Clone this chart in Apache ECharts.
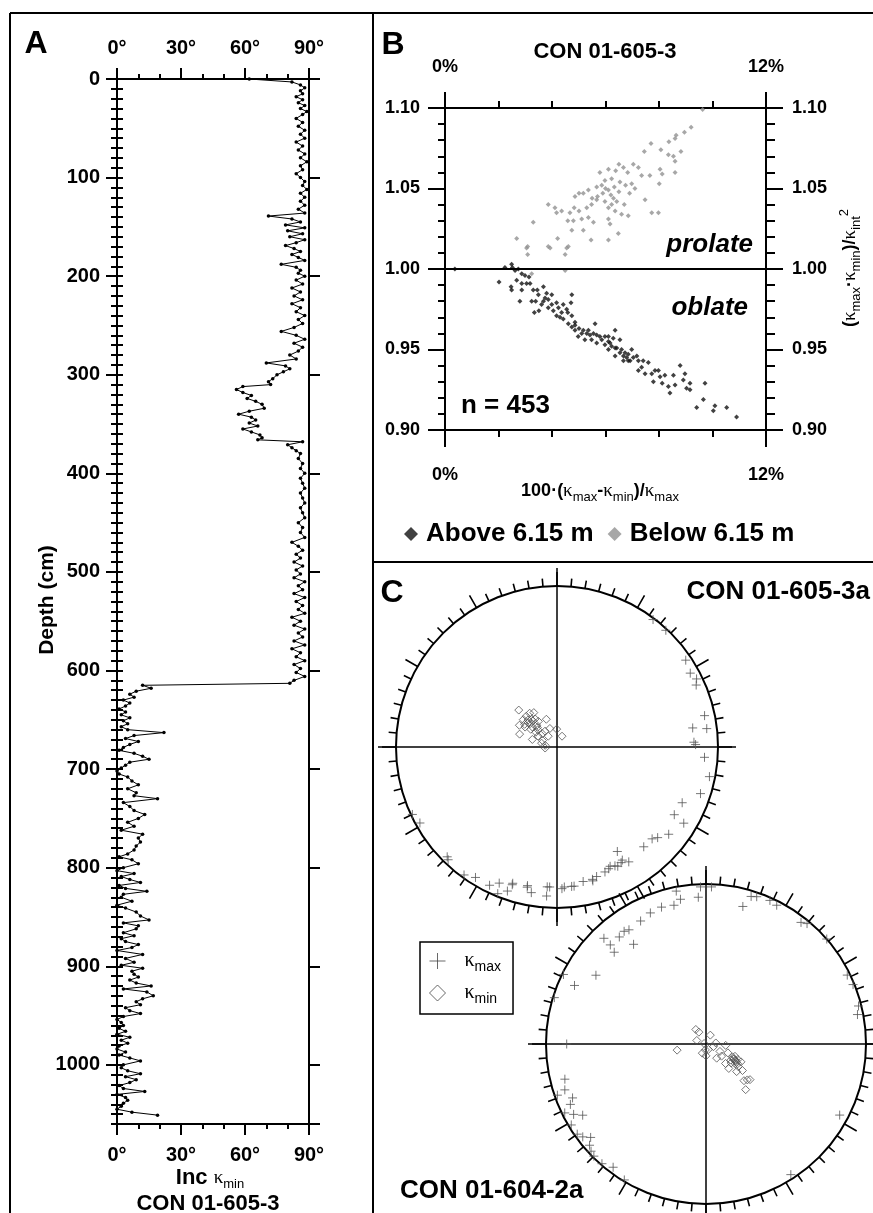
<!DOCTYPE html>
<html><head><meta charset="utf-8">
<script src="https://cdn.jsdelivr.net/npm/echarts@6/dist/echarts.min.js"></script>
<style>html,body{margin:0;padding:0;background:#fff}#c{width:873px;height:1213px}</style>
</head><body><div id="c"></div>
<script>
// ---------- Panel A: inclination of kmin vs depth  [depth cm, inc deg] ----------
const incProfile = [
[0,62],[3,82],[6,86],[9,88],[12,86],[15,87],[18,84],[21,87],[24,85],[27,88],[30,86],[33,89],[36,87],[40,84],[44,87],[48,85],[52,88],[56,86],[60,88],[64,84],[68,87],[72,85],[76,88],[80,86],[84,89],[88,86],[92,87],[96,84],[100,86],[104,88],[108,87],[112,89],[116,86],[120,88],[124,86],[128,88],[132,85],[136,88],[139,71],[142,82],[145,86],[148,79],[151,88],[154,80],[157,87],[160,81],[163,88],[166,84],[169,79],[172,83],[175,86],[178,82],[181,85],[184,88],[188,77],[191,84],[194,86],[197,85],[200,88],[204,84],[208,87],[212,82],[216,86],[220,83],[224,87],[228,82],[232,86],[236,84],[240,88],[244,85],[248,87],[252,83],[256,77],[260,84],[264,88],[268,83],[272,87],[276,85],[280,81],[284,84],[288,70],[291,79],[294,81],[297,78],[300,75],[304,73],[307,71],[310,72],[312,59],[315,56],[318,59],[321,63],[324,61],[327,65],[330,68],[334,69],[337,62],[340,57],[343,63],[346,65],[349,62],[352,66],[355,59],[358,63],[361,67],[364,68],[366,66],[368,87],[371,80],[374,82],[377,84],[380,86],[385,85],[390,87],[395,86],[400,88],[405,86],[410,87],[415,88],[420,86],[425,87],[430,88],[435,86],[440,87],[445,88],[450,85],[455,87],[460,86],[465,88],[470,82],[474,85],[478,87],[482,84],[486,86],[490,83],[494,87],[498,84],[502,86],[506,83],[510,88],[514,85],[518,87],[522,83],[526,88],[530,84],[534,87],[538,85],[542,88],[546,82],[550,86],[554,83],[558,88],[562,85],[566,87],[570,83],[574,88],[578,82],[582,86],[586,84],[590,88],[594,83],[598,86],[602,84],[606,88],[610,83],[613,81],[615,12],[618,16],[621,9],[624,6],[627,8],[630,3],[633,6],[636,4],[639,1],[642,4],[645,2],[648,6],[651,3],[654,5],[657,2],[660,5],[663,22],[666,8],[669,4],[672,10],[675,6],[678,3],[681,1],[684,8],[687,12],[690,15],[693,6],[696,4],[699,2],[702,0],[705,1],[708,5],[712,7],[716,10],[720,5],[724,9],[727,8],[730,19],[734,3],[738,6],[742,8],[746,13],[750,10],[754,5],[758,8],[762,2],[766,12],[770,10],[774,11],[778,9],[782,8],[786,5],[789,1],[792,7],[796,10],[800,3],[803,0],[806,8],[809,2],[812,6],[815,11],[818,1],[821,4],[824,14],[827,3],[830,2],[834,7],[838,0],[841,4],[845,9],[849,11],[853,15],[856,3],[859,10],[862,9],[866,3],[869,8],[872,2],[875,4],[878,10],[881,7],[884,0],[888,12],[892,4],[896,8],[899,2],[902,12],[905,7],[908,8],[911,10],[914,6],[917,9],[920,16],[923,3],[926,14],[930,17],[933,12],[936,9],[939,11],[942,4],[945,6],[948,11],[951,3],[954,0],[957,2],[960,3],[963,1],[966,4],[969,0],[972,6],[975,2],[978,5],[981,1],[984,0],[987,4],[990,1],[993,6],[996,11],[1000,3],[1003,2],[1006,5],[1009,11],[1012,4],[1015,9],[1018,6],[1021,1],[1024,3],[1027,13],[1030,0],[1033,4],[1036,5],[1039,3],[1042,2],[1045,0],[1048,7],[1051,19]
];

// ---------- Panel B: shape plot  [100*(kmax-kmin)/kmax %, (kmax*kmin)/kint^2] ----------
const aboveShape = [
[0.37,1.000],[2.24,1.001],[2.02,0.992],[2.49,1.003],[2.52,1.001],[2.62,0.999],[2.74,1.000],[2.87,0.997],[2.47,0.989],[2.49,0.987],[2.80,0.980],[2.87,0.987],[2.99,0.996],[3.14,0.995],[3.18,0.991],[3.30,0.987],[3.45,0.987],[3.49,0.984],[3.24,0.980],[3.39,0.980],[3.34,0.973],[3.51,0.974],[3.68,0.989],[3.74,0.982],[3.86,0.981],[3.99,0.978],[4.17,0.979],[4.05,0.974],[4.36,0.973],[4.55,0.975],[4.71,0.979],[4.74,0.984],[4.30,0.970],[4.42,0.969],[4.61,0.966],[4.74,0.964],[4.86,0.962],[4.98,0.958],[5.11,0.960],[5.23,0.956],[5.36,0.962],[5.48,0.956],[5.61,0.966],[5.67,0.954],[5.79,0.958],[5.98,0.953],[6.11,0.950],[6.11,0.958],[6.17,0.954],[6.29,0.957],[6.36,0.951],[6.36,0.962],[6.54,0.956],[6.54,0.948],[6.67,0.946],[6.79,0.945],[6.92,0.943],[6.98,0.950],[7.17,0.946],[7.23,0.943],[7.35,0.939],[7.60,0.942],[7.73,0.935],[7.98,0.937],[8.04,0.933],[8.12,0.929],[8.35,0.927],[8.41,0.923],[8.54,0.934],[8.79,0.940],[8.91,0.931],[9.16,0.929],[9.16,0.925],[9.72,0.929],[9.66,0.919],[9.41,0.914],[10.09,0.915],[10.03,0.912],[10.53,0.914],[10.90,0.908],
[4.86,0.965],[5.01,0.963],[5.17,0.962],[5.30,0.960],[5.42,0.959],[5.55,0.960],[5.67,0.959],[5.86,0.956],[5.98,0.958],[6.11,0.955],[6.23,0.952],[6.42,0.951],[6.60,0.950],[6.73,0.948],[6.85,0.947],[7.04,0.945],[6.85,0.943],[6.67,0.943],[6.36,0.946],[7.41,0.943],[7.23,0.937],[7.48,0.935],[7.85,0.937],[7.79,0.930],[8.22,0.934],[8.60,0.928],[8.97,0.935],[9.03,0.926],[3.80,0.985],[3.99,0.984],[3.86,0.976],[4.24,0.976],[4.42,0.978],[4.59,0.973],[4.17,0.971],[4.74,0.971],[4.86,0.967],[3.05,0.991],[2.87,0.991],[2.68,0.993],[3.68,0.980],[3.61,0.978]
];
const belowShape = [
[9.63,1.099],[9.20,1.088],[8.95,1.085],[8.64,1.083],[8.60,1.081],[8.37,1.079],[7.70,1.078],[7.45,1.073],[8.07,1.074],[8.35,1.071],[8.54,1.070],[8.82,1.073],[8.60,1.067],[8.60,1.060],[8.04,1.062],[8.12,1.059],[7.04,1.065],[7.23,1.063],[6.83,1.060],[6.50,1.065],[6.67,1.063],[6.11,1.062],[6.38,1.061],[5.79,1.060],[7.35,1.058],[7.66,1.058],[8.01,1.053],[6.98,1.053],[6.54,1.054],[6.75,1.052],[6.23,1.056],[5.98,1.055],[6.33,1.051],[5.86,1.052],[5.67,1.051],[6.11,1.049],[5.36,1.049],[5.17,1.047],[4.86,1.045],[5.01,1.047],[7.48,1.043],[5.67,1.043],[5.98,1.042],[6.23,1.040],[6.42,1.042],[6.11,1.038],[6.36,1.036],[6.60,1.034],[6.85,1.033],[7.73,1.035],[7.98,1.035],[5.48,1.040],[5.30,1.038],[5.01,1.036],[4.83,1.038],[4.67,1.035],[4.36,1.036],[4.59,1.030],[4.80,1.030],[5.11,1.031],[5.36,1.032],[5.55,1.029],[6.11,1.031],[6.17,1.028],[6.48,1.022],[6.11,1.018],[5.17,1.024],[4.74,1.024],[4.17,1.035],[3.86,1.040],[4.11,1.038],[4.21,1.019],[3.30,1.029],[2.68,1.019],[3.05,1.013],[3.93,1.013],[4.61,1.014],[5.46,1.018],[3.09,1.014],[3.09,1.009],[3.86,1.014],[4.55,1.013],[4.49,1.009],[4.49,0.999],[3.24,0.997],
[5.90,1.047],[6.00,1.050],[6.20,1.046],[5.70,1.045],[6.50,1.048],[6.90,1.047],[6.30,1.044],[5.50,1.044],[6.70,1.040],[7.10,1.050]
];

// ---------- Panel C: stereonets  [declination deg, inclination deg] ----------
const c1Kmax = [
[37,1],[43,1],[56,4],[61,6],[64,4],[66,6],[78,7],[82,16],[83,7],[88,16],[89,15],[94,9],[101,4],[108,7],[114,16],[120,17],[121,9],[128,13],[132,17],[134,19],[139,19],[150,26],[148,17],[151,19],[154,19],[157,19],[159,18],[163,17],[165,15],[169,16],[173,14],[177,14],[183,14],[174,14],[178,13],[184,14],[184,8],[190,9],[192,12],[198,11],[199,6],[203,9],[206,5],[202,2],[212,5],[216,2],[224,3],[225,4],[241,3],[245,1],[192,13],[198,12],[165,16],[150,20],[153,18],[156,20]
];
const c1Kmin = [
[314,63],[309,68],[315,68],[321,68],[326,69],[317,71],[322,72],[324,74],[310,71],[305,70],[300,68],[289,70],[287,77],[312,77],[312,80],[339,75],[339,80],[359,81],[25,84],[294,82],[265,84],[278,84],[311,72],[317,72],[313,70],[317,75],[309,74],[302,71],[315,76],[304,74],[305,77],[300,79],[284,82],[321,83],[323,80]
];
const c2Kmax = [
[349,3],[350,9],[358,2],[357,9],[2,2],[15,12],[17,4],[19,3],[24,2],[27,3],[38,4],[40,2],[49,0],[64,2],[68,1],[79,4],[76,2],[118,6],[147,3],[347,12],[342,11],[337,12],[332,14],[326,15],[324,14],[321,15],[324,24],[316,9],[316,15],[315,20],[302,20],[294,11],[296,1],[287,1],[270,14],[256,10],[252,8],[251,2],[248,11],[246,8],[244,2],[242,7],[240,12],[239,2],[235,2],[233,4],[231,8],[229,4],[227,2],[225,1],[221,1],[217,4],[211,1]
];
const c2Kmin = [
[258,75],[325,81],[329,83],[26,85],[291,85],[186,87],[180,84],[84,85],[94,80],[118,82],[143,81],[112,78],[119,74],[113,74],[127,74],[125,70],[126,67],[132,69],[131,62],[129,61],[134,63],[139,59],[137,73],[135,76],[110,86],[156,87],[285,89],[128,80],[117,70],[122,71],[120,73],[116,75],[123,75],[116,72],[202,85],[119,73],[121,72],[118,74],[124,72]
];

// ---------- layout / style ----------
const FONT = '"Liberation Sans", Arial, sans-serif';
const KFONT = '"Liberation Serif", "DejaVu Serif", serif';
const GA = {left:117, top:79, width:192, height:1045};
const GB = {left:445, top:108, width:321, height:322};
const P1 = {c:[557,747], r:161};
const P2 = {c:[706,1044], r:160};

const ea = inc => Math.SQRT2 * Math.sin((90 - inc) / 2 * Math.PI / 180); // equal-area radius

const line = (w) => ({show:true, onZero:false, lineStyle:{color:'#000', width:w}});
const tick = (len, w) => ({show:true, inside:false, length:len, lineStyle:{color:'#000', width:w}});
const minor = (n, len, w) => ({show:true, splitNumber:n, length:len, lineStyle:{color:'#000', width:w}});
const lbl = (size, margin, fmt) => ({show:true, fontSize:size, fontWeight:'bold', fontFamily:FONT, color:'#000', margin:margin, formatter:fmt});

const xAxes = [
  {gridIndex:0, type:'value', position:'bottom', min:0, max:90, interval:30, axisLine:line(2), axisTick:tick(11,2), minorTick:minor(3,5,2), splitLine:{show:false}, axisLabel:lbl(20,21,v=>v+'°')},
  {gridIndex:0, type:'value', position:'top', min:0, max:90, interval:30, axisLine:line(2), axisTick:tick(11,2), minorTick:minor(3,5,2), splitLine:{show:false}, axisLabel:lbl(20,21,v=>v+'°')},
  {gridIndex:1, type:'value', position:'bottom', min:0, max:12, interval:2, axisLine:line(2), axisTick:tick(7,2), splitLine:{show:false}, axisLabel:lbl(18,36,v=>(v===0||v===12)?v+'%':'')},
  {gridIndex:1, type:'value', position:'top', min:0, max:12, interval:2, axisLine:line(2), axisTick:tick(7,2), splitLine:{show:false}, axisLabel:lbl(18,32,v=>(v===0||v===12)?v+'%':'')}
];
const yAxes = [
  {gridIndex:0, type:'value', position:'left', inverse:true, min:0, max:1060, interval:100, axisLine:line(2), axisTick:tick(11,2), splitLine:{show:false}, axisLabel:Object.assign(lbl(20,17,v=>String(v)),{showMaxLabel:false})},
  {gridIndex:0, type:'value', position:'right', inverse:true, min:0, max:1060, interval:100, axisLine:line(2), axisTick:tick(11,2), splitLine:{show:false}, axisLabel:{show:false}},
  {gridIndex:0, type:'value', position:'left', inverse:true, min:0, max:1060, interval:10, axisLine:{show:false}, axisTick:tick(6,2), splitLine:{show:false}, axisLabel:{show:false}},
  {gridIndex:0, type:'value', position:'right', inverse:true, min:0, max:1060, interval:10, axisLine:{show:false}, axisTick:tick(6,2), splitLine:{show:false}, axisLabel:{show:false}},
  {gridIndex:1, type:'value', position:'left', min:0.9, max:1.1, interval:0.05, axisLine:line(2), axisTick:tick(17,2), minorTick:minor(5,7,2), splitLine:{show:false}, axisLabel:lbl(18,25,v=>v.toFixed(2))},
  {gridIndex:1, type:'value', position:'right', min:0.9, max:1.1, interval:0.05, axisLine:line(2), axisTick:tick(17,2), minorTick:minor(5,9,2), splitLine:{show:false}, axisLabel:lbl(18,26,v=>v.toFixed(2))}
];

const angle = (i) => ({polarIndex:i, type:'value', min:0, max:360, interval:30, startAngle:90, clockwise:true,
  axisLine:{show:true, lineStyle:{color:'#000', width:2}}, axisTick:{show:true, inside:false, length:14, lineStyle:{color:'#000', width:1.6}},
  minorTick:{show:true, splitNumber:6, length:8, lineStyle:{color:'#000', width:1.6}}, axisLabel:{show:false}, splitLine:{show:false}});
const radius = (i) => ({polarIndex:i, type:'value', min:0, max:1, show:false, axisLine:{show:false}, axisTick:{show:false}, axisLabel:{show:false}, splitLine:{show:false}});

const PLUS = 'path://M0,5L10,5M5,0L5,10';
const plusStyle = {color:'transparent', borderColor:'#555', borderWidth:1};
const diaStyle = {color:'transparent', borderColor:'#555', borderWidth:1};
const toPolar = arr => arr.map(d => [ea(d[1]), d[0]]);

const sub = {fontFamily:FONT, fontSize:13, padding:[12,0,0,0], fill:'#000'};
const sup = {fontFamily:FONT, fontSize:13, padding:[0,0,12,0], fill:'#000'};
const kap = {fontFamily:KFONT, fontSize:19, fill:'#000'};
const bold = (s) => ({fontFamily:FONT, fontWeight:'bold', fontSize:s, fill:'#000'});

function txt(x, y, text, size, opts) {
  return Object.assign({type:'text', x:x, y:y, silent:true, style:Object.assign({text:text, fontFamily:FONT, fontWeight:'bold', fontSize:size, fill:'#000', align:'center', verticalAlign:'middle'}, (opts&&opts.style)||{})}, (opts&&opts.el)||{});
}
function ln(x1,y1,x2,y2,w){ return {type:'line', silent:true, shape:{x1,y1,x2,y2}, style:{stroke:'#000', lineWidth:w||2}}; }

const graphics = [
  ln(10,13,873,13,2), ln(10,13,10,1213,2), ln(373,13,373,1213,2), ln(373,562,873,562,2),
  txt(36,44,'A',32), txt(393,45,'B',32), txt(392,593,'C',32),
  txt(47,600,'Depth (cm)',21,{el:{rotation:Math.PI/2}}),
  txt(210,1178,'{b|Inc }{k|κ}{s|min}',22,{style:{rich:{b:bold(22), k:{fontFamily:KFONT,fontSize:19,fill:'#000'}, s:sub}}}),
  txt(208,1204,'CON 01-605-3',22),
  txt(605,52,'CON 01-605-3',22),
  txt(753,245,'prolate',26,{style:{align:'right', fontStyle:'italic'}}),
  txt(748,308,'oblate',26,{style:{align:'right', fontStyle:'italic'}}),
  txt(461,406,'n = 453',26,{style:{align:'left'}}),
  txt(600,491,'{b|100·(}{k|κ}{s|max}{b|-}{k|κ}{s|min}{b|)/}{k|κ}{s|max}',18,{style:{rich:{b:bold(18), k:kap, s:sub}}}),
  txt(850,268,'{b|(}{k|κ}{s|max}{b|·}{k|κ}{s|min}{b|)/}{k|κ}{s|int}{p|2}',18,{el:{rotation:Math.PI/2}, style:{rich:{b:bold(18), k:kap, s:sub, p:sup}}}),
  // end-tick extensions of panel B frame
  ln(GB.left, GB.top, GB.left, GB.top-16), ln(GB.left+GB.width, GB.top, GB.left+GB.width, GB.top-16),
  ln(GB.left, GB.top+GB.height, GB.left, GB.top+GB.height+17), ln(GB.left+GB.width, GB.top+GB.height, GB.left+GB.width, GB.top+GB.height+17),
  // stereonet cross lines
  ln(P1.c[0]-P1.r-18, P1.c[1], P1.c[0]+P1.r+18, P1.c[1], 1.5), ln(P1.c[0], P1.c[1]-P1.r-18, P1.c[0], P1.c[1]+P1.r+18, 1.5),
  ln(P2.c[0]-P2.r-18, P2.c[1], P2.c[0]+P2.r+18, P2.c[1], 1.5), ln(P2.c[0], P2.c[1]-P2.r-18, P2.c[0], P2.c[1]+P2.r+18, 1.5),
  txt(870,592,'CON 01-605-3a',26,{style:{align:'right'}}),
  txt(400,1191,'CON 01-604-2a',26,{style:{align:'left'}})
];

const option = {
  backgroundColor:'#fff',
  animation:false,
  grid:[Object.assign({containLabel:false},GA), Object.assign({containLabel:false},GB)],
  xAxis:xAxes,
  yAxis:yAxes,
  polar:[{center:P1.c, radius:P1.r}, {center:P2.c, radius:P2.r}],
  angleAxis:[angle(0), angle(1)],
  radiusAxis:[radius(0), radius(1)],
  legend:[
    {data:['Above 6.15 m','Below 6.15 m'], left:399, top:516, icon:'diamond', itemWidth:14, itemHeight:14, itemGap:14, selectedMode:false,
     textStyle:{fontSize:26, fontWeight:'bold', fontFamily:FONT, color:'#000', padding:[0,0,0,3]}},
    {data:[{name:'κmax', icon:PLUS, itemStyle:{color:'transparent', borderColor:'#444', borderWidth:1}},
           {name:'κmin', icon:'diamond', itemStyle:{color:'transparent', borderColor:'#444', borderWidth:1}}],
     orient:'vertical', left:420, top:942, itemWidth:16, itemHeight:16, itemGap:9, selectedMode:false,
     borderColor:'#000', borderWidth:1.5, padding:[9,12,8,9], backgroundColor:'#fff',
     formatter: n => n==='κmax' ? '{k|κ}{s|max}' : '{k|κ}{s|min}',
     textStyle:{rich:{k:{fontFamily:KFONT, fontSize:20, color:'#000', padding:[0,0,0,14]}, s:{fontFamily:FONT, fontSize:14, color:'#000', padding:[12,0,0,0]}}}}
  ],
  graphic:graphics,
  series:[
    {type:'line', name:'Inc kmin', xAxisIndex:0, yAxisIndex:0, data:incProfile.map(d=>[d[1], d[0]]),
     symbol:'circle', symbolSize:3.5, showSymbol:true, showAllSymbol:true, lineStyle:{color:'#000', width:1}, itemStyle:{color:'#000'}, silent:true},
    {type:'scatter', name:'Above 6.15 m', xAxisIndex:2, yAxisIndex:4, data:aboveShape, symbol:'diamond', symbolSize:5, itemStyle:{color:'#111'},
     markLine:{silent:true, symbol:['none','none'], label:{show:false}, lineStyle:{color:'#000', width:2, type:'solid'}, data:[{yAxis:1}]}},
    {type:'scatter', name:'Below 6.15 m', xAxisIndex:2, yAxisIndex:4, data:belowShape, symbol:'diamond', symbolSize:5, itemStyle:{color:'#919191'}},
    {type:'scatter', name:'κmax', coordinateSystem:'polar', polarIndex:0, data:toPolar(c1Kmax), symbol:PLUS, symbolSize:9, itemStyle:plusStyle},
    {type:'scatter', name:'κmin', coordinateSystem:'polar', polarIndex:0, data:toPolar(c1Kmin), symbol:'diamond', symbolSize:8, itemStyle:diaStyle},
    {type:'scatter', name:'κmax', coordinateSystem:'polar', polarIndex:1, data:toPolar(c2Kmax), symbol:PLUS, symbolSize:9, itemStyle:plusStyle},
    {type:'scatter', name:'κmin', coordinateSystem:'polar', polarIndex:1, data:toPolar(c2Kmin), symbol:'diamond', symbolSize:8, itemStyle:diaStyle}
  ]
};
const chart = echarts.init(document.getElementById('c'), null, {renderer:'canvas', width:873, height:1213});
chart.setOption(option);
</script></body></html>
